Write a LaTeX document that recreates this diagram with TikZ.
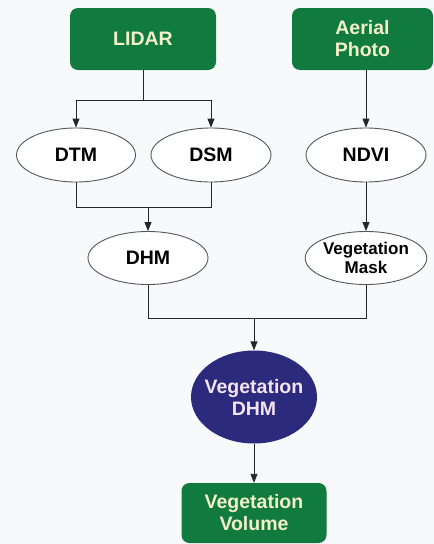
\documentclass[tikz,border=0pt]{standalone}
\usepackage{fontspec}
\setmainfont{Liberation Sans}
\usetikzlibrary{shapes.geometric,arrows.meta}
\definecolor{bg}{HTML}{F8F9FB}
\definecolor{boxgreen}{HTML}{117A3E}
\definecolor{boxtext}{HTML}{F2F0C8}
\definecolor{navy}{HTML}{2B2A7C}
\definecolor{navytext}{HTML}{F4E4F0}
\definecolor{ellline}{HTML}{505860}
\tikzset{
  greenbox/.style={rectangle, rounded corners=8pt, fill=boxgreen, text=boxtext,
    font=\bfseries\fontsize{19.5}{22}\selectfont, align=center, inner sep=0pt},
  oval/.style={ellipse, draw=ellline, line width=0.9pt, fill=white, inner sep=0pt,
    font=\bfseries\fontsize{19.5}{21}\selectfont, align=center},
  darkoval/.style={ellipse, fill=navy, inner sep=0pt},
  darktext/.style={text=navytext, inner sep=0pt,
    font=\bfseries\fontsize{19.5}{22}\selectfont, align=center},
  conn/.style={line width=0.9pt, draw=black!85},
  arr/.style={conn, -{Triangle[length=9pt,width=7pt]}}
}
\begin{document}
\begin{tikzpicture}[x=1pt,y=-1pt]
\fill[bg] (0,0) rectangle (434,544);
\useasboundingbox (0,0) rectangle (434,544);
\node[greenbox, minimum width=146pt, minimum height=62pt] (lidar) at (143,39) {LIDAR};
\node[greenbox, minimum width=141pt, minimum height=62pt] (aerial) at (362.5,39) {Aerial\\Photo};
\node[oval, minimum width=119pt, minimum height=54pt] (dtm) at (76,155) {DTM};
\node[oval, minimum width=120pt, minimum height=54pt] (dsm) at (211,155) {DSM};
\node[oval, minimum width=120pt, minimum height=54pt] (ndvi) at (366,155) {NDVI};
\node[oval, minimum width=120pt, minimum height=53pt] (dhm) at (148,258) {DHM};
\node[oval, minimum width=120pt, minimum height=53pt, font=\bfseries\fontsize{17}{18.5}\selectfont] (mask) at (366,258) {Vegetation\\Mask};
\node[darkoval, minimum width=126pt, minimum height=93pt] (vdhm) at (254,397) {};
\node[darktext] (vdhmtext) at (vdhm.center) {Vegetation\\DHM};
\node[greenbox, minimum width=145pt, minimum height=60pt] (vvol) at (254,513) {Vegetation\\Volume};
\coordinate (split) at (143,100);
\coordinate (join1) at (148,207);
\coordinate (join2) at (254,318);
% LIDAR to DTM/DSM
\draw[conn] (lidar.south) -- (split);
\draw[arr] (split) -| (dtm.north);
\draw[arr] (split) -| (dsm.north);
% Aerial to NDVI to Mask
\draw[arr] (aerial.south -| ndvi.north) -- (ndvi.north);
\draw[arr] (ndvi.south) -- (mask.north);
% DTM, DSM to DHM
\draw[conn] (dtm.south) |- (join1);
\draw[conn] (dsm.south) |- (join1);
\draw[arr] (join1) -- (dhm.north);
% DHM, Mask to Vegetation DHM
\draw[conn] (dhm.south) |- (join2);
\draw[conn] (mask.south) |- (join2);
\draw[arr] (join2) -- (vdhm.north);
\draw[arr] (vdhm.south) -- (vvol.north);
\end{tikzpicture}
\end{document}
